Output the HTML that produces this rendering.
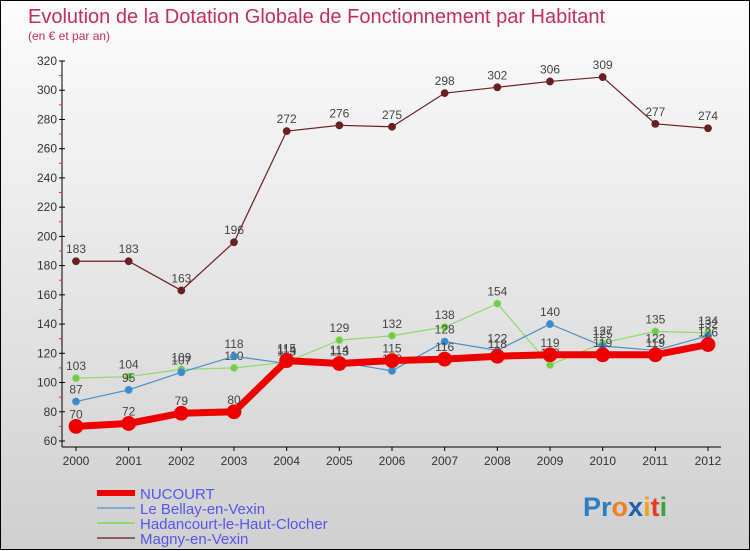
<!DOCTYPE html>
<html><head><meta charset="utf-8">
<style>
html,body{margin:0;padding:0}
body{width:750px;height:550px;overflow:hidden;font-family:"Liberation Sans","DejaVu Sans",sans-serif}
#wrap{position:relative;width:748px;height:548px;border:1px solid #000;background:linear-gradient(#fcfcfc,#d0d0d0)}
svg{position:absolute;left:0;top:0}
</style></head>
<body>
<div id="wrap">
<svg id="chart" width="750" height="550">
<text x="27" y="22" font-size="20" fill="#c0305a">Evolution de la Dotation Globale de Fonctionnement par Habitant</text>
<text x="27" y="39" font-size="12" fill="#c0305a">(en € et par an)</text>
<g id="axes"></g><g id="series"></g>
<g id="legend"></g>
<text x="582" y="515" font-size="27" font-weight="bold"><tspan fill="#2a7fc0">Pr</tspan><tspan fill="#f08020">o</tspan><tspan fill="#1a5fb0">x</tspan><tspan fill="#f0a020">i</tspan><tspan fill="#e04020">t</tspan><tspan fill="#40a040">i</tspan></text>
</svg>
</div>
<script>
const years=[2000,2001,2002,2003,2004,2005,2006,2007,2008,2009,2010,2011,2012];
const nucourt=[70,72,79,80,115,113,115,116,118,119,119,119,126];
const bellay=[87,95,107,118,113,114,108,128,122,140,125,122,132];
const hadancourt=[103,104,109,110,114,129,132,138,154,112,127,135,134];
const magny=[183,183,163,196,272,276,275,298,302,306,309,277,274];
const yTicks=[60,80,100,120,140,160,180,200,220,240,260,280,300,320];
const NS="http://www.w3.org/2000/svg";
const x=i=>75+i*(707-75)/(years.length-1);
const y=v=>440-(v-60)*(380/260);
function mk(t,a,p){const e=document.createElementNS(NS,t);for(const k in a)e.setAttribute(k,a[k]);p.appendChild(e);return e;}
const ax=document.getElementById('axes');
const yl=mk('line',{x1:61,y1:60,x2:61,y2:446,stroke:'#000'},ax);


const xl=mk('line',{x1:61,y1:446,x2:720,y2:446,stroke:'#000'},ax);


yTicks.forEach(v=>{
  mk('line',{x1:58,y1:y(v),x2:64,y2:y(v),stroke:'#000'},ax);
  if(v<320) mk('line',{x1:58,y1:y(v+10),x2:61,y2:y(v+10),stroke:'#e03030'},ax);
  const t=mk('text',{x:56,y:y(v)+4,'font-size':12,'text-anchor':'end',fill:'#333'},ax);
  
  
  t.textContent=v;
});
years.forEach((yr,i)=>{
  mk('line',{x1:x(i),y1:446,x2:x(i),y2:450,stroke:'#000'},ax);
  const t=mk('text',{x:x(i),y:464,'font-size':12,'text-anchor':'middle',fill:'#333'},ax);
  
  
  t.textContent=yr;
});
const sg=document.getElementById('series');
const defs=[
 {d:magny,c:'#6b2020',w:1.2,r:3.5,name:'magny-en-vexin'},
 {d:hadancourt,c:'#90d870',w:1.2,r:3.5,fill:'#70cc40',name:'hadancourt-le-haut-clocher'},
 {d:bellay,c:'#4a90c8',w:1.2,r:3.5,fill:'#3a8ad0',name:'le-bellay-en-vexin'},
 {d:nucourt,c:'#ee0000',w:7,r:7,name:'nucourt'}
];
defs.forEach(s=>{
  const g=mk('g',{},sg);
  
  
  mk('polyline',{points:s.d.map((v,i)=>x(i)+','+y(v)).join(' '),fill:'none',stroke:s.c,'stroke-width':s.w},g);
  s.d.forEach((v,i)=>{
    const c=mk('circle',{cx:x(i),cy:y(v),r:s.r,fill:s.fill||s.c,stroke:s.c,'stroke-width':0.8},g);
    
    
    const t=mk('text',{x:x(i),y:y(v)-8,'font-size':12,'text-anchor':'middle',fill:'#444'},g);
    
    
    t.textContent=v;
  });
});
const lg=document.getElementById('legend');
[['NUCOURT','#ee0000',6],['Le Bellay-en-Vexin','#80a8c8',2],['Hadancourt-le-Haut-Clocher','#90d870',2],['Magny-en-Vexin','#8a6060',2]].forEach((e,i)=>{
  const yy=492+i*15;
  const l=mk('line',{x1:96,y1:yy,x2:134,y2:yy,stroke:e[1],'stroke-width':e[2]},lg);
  
  
  const t=mk('text',{x:139,y:yy+6,'font-size':15,fill:'#5555ee'},lg);
  
  
  t.textContent=e[0];
});
</script>
</body></html>
